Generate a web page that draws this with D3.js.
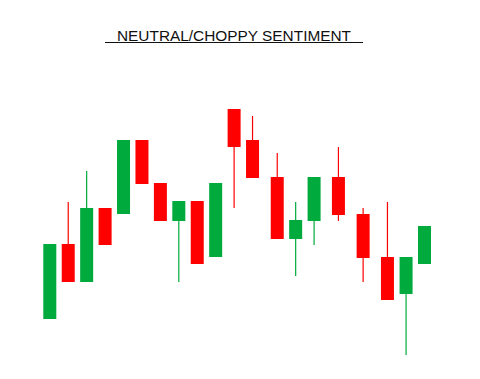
<!DOCTYPE html>
<html>
<head>
<meta charset="utf-8">
<script src="https://cdn.jsdelivr.net/npm/d3@7"></script>
<style>
  html, body { margin: 0; padding: 0; background: #fff; }
  svg { display: block; }
</style>
</head>
<body>
<svg id="chart" width="480" height="379"></svg>
<script>
// Candle slots (time positions, with gaps)
const slots  = [0, 1, 2, 3, 4, 5, 6, 7, 8, 9, 10, 11, 12.34, 13.34, 14.34, 15.66, 17, 18.32, 19.33, 20.33];
const opens  = [41, 116, 78, 152, 146, 220, 177, 139, 159, 103, 251, 220, 183, 121, 139, 183, 146, 103, 66, 96];
const closes = [116, 78, 152, 115, 220, 176, 139, 159, 96, 177, 213, 182, 121, 140, 183, 145, 102, 60, 103, 134];
const highs  = [116, 158, 189, 152, 220, 220, 177, 159, 159, 177, 251, 244, 207, 158, 183, 213, 152, 158, 103, 134];
const lows   = [41, 78, 78, 115, 146, 176, 139, 78, 96, 103, 152, 182, 121, 84, 115, 139, 78, 60, 5, 96];
const title = "NEUTRAL/CHOPPY SENTIMENT";

const svg = d3.select("#chart");
const x = d3.scaleLinear().domain([0, 20.33]).range([49.8, 424.5]);
const y = d3.scaleLinear().domain([0, 360]).range([360, 0]);
const bodyW = 13;
const up = "#00aa3c", down = "#ff0000";

const data = slots.map((s, i) => ({ s, o: opens[i], c: closes[i], h: highs[i], l: lows[i] }));

const g = svg.append("g");
g.selectAll("line.wick").data(data).join("line")
  .attr("class", "wick")
  .attr("x1", d => x(d.s)).attr("x2", d => x(d.s))
  .attr("y1", d => y(d.h)).attr("y2", d => y(d.l))
  .attr("stroke", d => d.c >= d.o ? up : down)
  .attr("stroke-width", 1.2);

g.selectAll("rect.body").data(data).join("rect")
  .attr("class", "body")
  .attr("x", d => x(d.s) - bodyW / 2)
  .attr("width", bodyW)
  .attr("y", d => y(Math.max(d.o, d.c)))
  .attr("height", d => Math.abs(y(d.o) - y(d.c)))
  .attr("fill", d => d.c >= d.o ? up : down);

// Title with underline
svg.append("text")
  .attr("x", 234).attr("y", 40.5)
  .attr("text-anchor", "middle")
  .attr("font-family", "Liberation Sans, Arial, sans-serif")
  .attr("font-size", 15.4)
  .attr("fill", "#111")
  .text(title);
svg.append("line")
  .attr("x1", 105).attr("x2", 363)
  .attr("y1", 42.5).attr("y2", 42.5)
  .attr("stroke", "#111").attr("stroke-width", 1);
</script>
</body>
</html>
